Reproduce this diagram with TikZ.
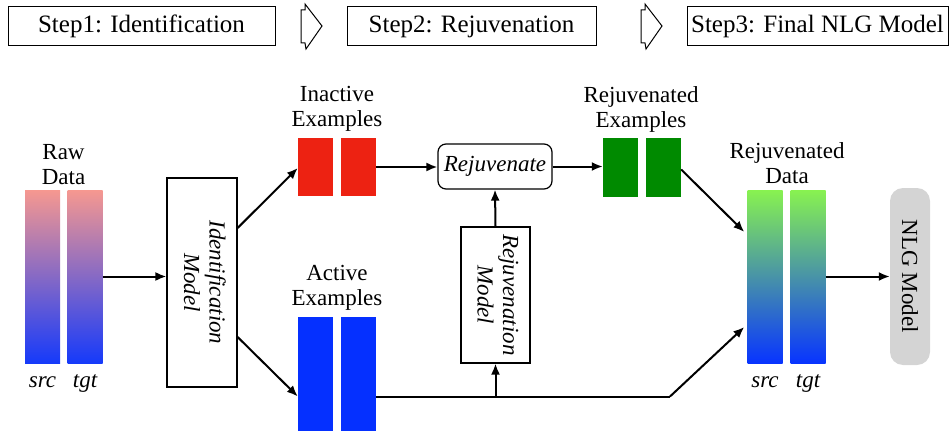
\documentclass[tikz,border=0pt]{standalone}
\usepackage{fontspec}
\setmainfont{Liberation Serif}
\usepackage{graphicx}
\usetikzlibrary{arrows.meta,calc}
\definecolor{redex}{RGB}{237,34,18}
\definecolor{blueex}{RGB}{5,48,255}
\definecolor{greenex}{RGB}{0,138,0}
\definecolor{rawtop}{RGB}{246,152,144}
\definecolor{rawbot}{RGB}{22,58,250}
\definecolor{rejtop}{RGB}{136,242,80}
\definecolor{rejbot}{RGB}{8,52,255}
\definecolor{nlggray}{RGB}{212,212,212}
\begin{document}
\begin{tikzpicture}[x=1pt,y=-1pt,font=\fontsize{23}{25.5}\selectfont,
  stepbox/.style={draw,line width=1pt,inner sep=0pt,minimum height=39pt,font=\fontsize{25}{28}\selectfont},
  chev/.style={draw,line width=1pt},
  bar/.style={inner sep=0pt,minimum width=35pt},
  rawbar/.style={bar,minimum height=173pt,top color=rawtop,bottom color=rawbot,draw=none},
  rejbar/.style={bar,minimum height=173pt,top color=rejtop,bottom color=rejbot,draw=none},
  redbar/.style={bar,fill=redex,minimum height=58pt},
  bluebar/.style={bar,fill=blueex,minimum height=114pt},
  greenbar/.style={bar,fill=greenex,minimum height=58pt},
  lbl/.style={align=center,inner sep=0pt,anchor=south},
  tag/.style={inner sep=0pt,anchor=base,font=\fontsize{23}{25.5}\selectfont\itshape},
  modelbox/.style={draw,line width=1.2pt,inner sep=0pt},
  arr/.style={line width=2pt,-{Latex[length=11pt,width=9pt]}},
  ln/.style={line width=2pt}]
\useasboundingbox (0,0) rectangle (950,433);

% steps
\node[stepbox,minimum width=267pt] (s1) at (141.5,26.5) {Step1: Identification};
\node[stepbox,minimum width=249pt] (s2) at (471.5,26.5) {Step2: Rejuvenation};
\node[stepbox,minimum width=261pt] (s3) at (817.5,26.5) {Step3: Final NLG Model};
\draw[chev] (305,4) -- (322,26) -- (306,49) -- (305,43) -- (301,43) -- (301,10) -- (305,10) -- cycle;
\draw[chev] (645,4) -- (662,26) -- (646,49) -- (645,43) -- (641,43) -- (641,10) -- (645,10) -- cycle;

% raw data
\node[rawbar] (rs) at (42.5,276.5) {};
\node[rawbar] (rt) at (85,276.5) {};
\node[lbl] (rawl) at (63.5,185) {Raw\\Data};
\node[tag] (rsl) at (42.5,387) {src};
\node[tag] (rtl) at (85,387) {tgt};

% identification model
\node[modelbox,minimum width=70pt,minimum height=209pt] (id) at (202,282.5)
  {\rotatebox{-90}{\itshape\begin{tabular}{@{}c@{}}Identification\\Model\end{tabular}}};

% inactive examples
\node[redbar] (r1) at (315.5,167) {};
\node[redbar] (r2) at (358.5,167) {};
\node[lbl] (inl) at (337,132) {Inactive\\Examples};

% active examples
\node[bluebar] (b1) at (315.5,374) {};
\node[bluebar] (b2) at (358.5,374) {};
\node[lbl] (acl) at (337,311) {Active\\Examples};

% rejuvenate
\node[draw,line width=1.2pt,rounded corners=8pt,minimum width=114pt,minimum height=45pt,inner sep=0pt,font=\fontsize{23}{25.5}\selectfont\itshape] (rej) at (495,166.5) {Rejuvenate};
\node[modelbox,minimum width=69pt,minimum height=136pt] (rm) at (495.5,295)
  {\rotatebox{-90}{\itshape\begin{tabular}{@{}c@{}}Rejuvenation\\Model\end{tabular}}};

% rejuvenated examples
\node[greenbar] (g1) at (620.5,167.5) {};
\node[greenbar] (g2) at (663.5,167.5) {};
\node[lbl] (rel) at (641,133) {Rejuvenated\\Examples};

% rejuvenated data
\node[rejbar] (ds) at (765,276.5) {};
\node[rejbar] (dt) at (808,276.5) {};
\node[lbl] (dl) at (787,184) {Rejuvenated\\Data};
\node[tag] (dsl) at (765,387) {src};
\node[tag] (dtl) at (808,387) {tgt};

% NLG model
\node[fill=nlggray,rounded corners=13pt,minimum width=40pt,minimum height=177pt,inner sep=0pt] (nlg) at (910,276.5)
  {\rotatebox{-90}{NLG Model}};

% connectors
\draw[arr] (rt.east) -- (rt.east -| id.west);
\draw[arr] ($(id.east)+(0,-54.5)$) -- ($(r1.west)+(0,1)$);
\draw[arr] ($(id.east)+(0,54.5)$) -- ($(b1.west)+(0,22.5)$);
\draw[arr] (r2.east) -- (r2.east -| rej.west);
\draw[arr] (rej.east) -- (rej.east -| g1.west);
\draw[arr] (rm.north) -- (rej.south);
\coordinate (bend) at (670,396.5);
\coordinate (branch) at (rm.south |- bend);
\draw[ln] ($(b2.east)+(0,22.5)$) -- (bend);
\draw[arr] (bend) -- ($(ds.west)+(-3,50.5)$);
\draw[arr] (branch) -- (rm.south);
\draw[arr] ($(g2.east)+(0,2)$) -- ($(ds.west)+(-3,-44.5)$);
\draw[arr] (dt.east) -- (nlg.west);
\end{tikzpicture}
\end{document}
